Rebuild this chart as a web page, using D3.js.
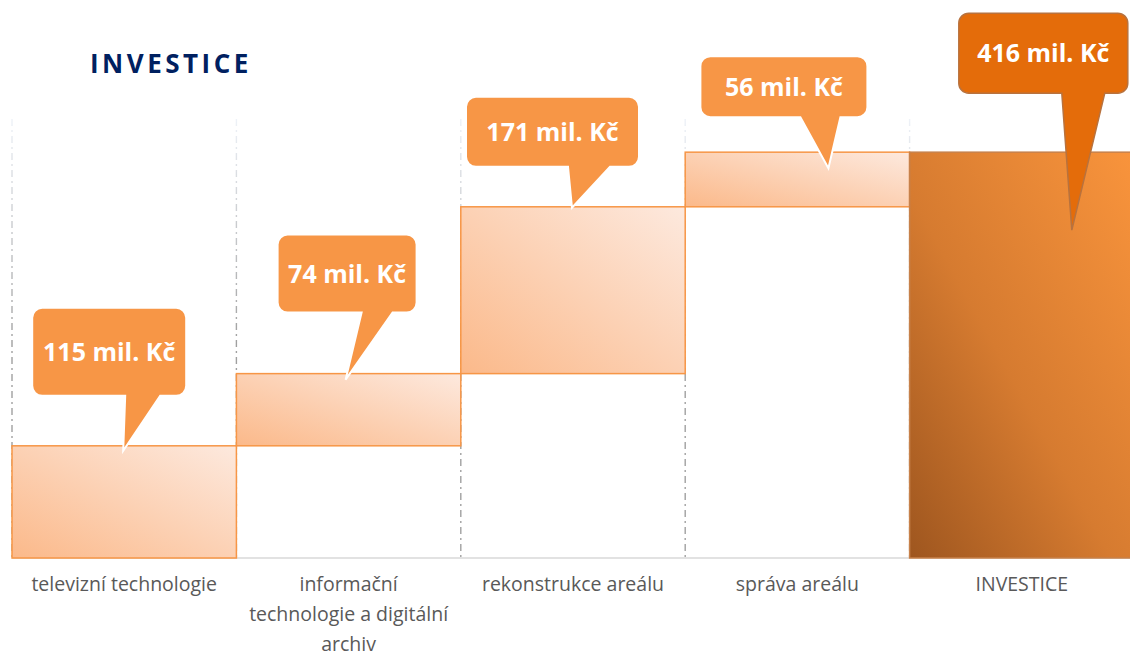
<!DOCTYPE html>
<html lang="cs">
<head>
<meta charset="UTF-8">
<title>Investice</title>
<script src="https://d3js.org/d3.v7.min.js"></script>
<style>
  body { margin: 0; background: #fff; font-family: 'Open Sans', Arial, sans-serif; }
  svg { display: block; }
  .cat-label { fill: #595959; font-size: 19.5px; }
  .callout-text { fill: #fff; font-weight: 700; font-size: 25px; }
  .title { fill: #002060; font-weight: 700; font-size: 26px; letter-spacing: 3.5px; }
</style>
</head>
<body>
<svg id="chart"></svg>
<script>
// data
const categories = ["televizní technologie", "informační technologie a digitální archiv",
                    "rekonstrukce areálu", "správa areálu", "INVESTICE"];
const tickLabels = [
  ["televizní technologie"],
  ["informační", "technologie a digitální", "archiv"],
  ["rekonstrukce areálu"],
  ["správa areálu"],
  ["INVESTICE"]
];
const steps = [115, 74, 171, 56];   // příspěvky jednotlivých položek
const total = 416;                   // souhrnný sloupec
const unit = "mil. Kč";
const yMax = 450;

// callout placement (px, relative to band centre and bar top)
const calloutLayout = [
  {left: -92, right: 62,  gap: 50, h: 88, baseL: 1,  baseR: 36, tipX: -1, tipY: 5},
  {left: -71, right: 68,  gap: 61, h: 78, baseL: 13, baseR: 44, tipX: -3, tipY: 6},
  {left: -107, right: 66, gap: 40, h: 70, baseL: -5, baseR: 37, tipX: -1, tipY: 1},
  {left: -97, right: 70,  gap: 35, h: 61, baseL: 3,  baseR: 43, tipX: 31, tipY: 16},
  {left: -63, right: 106, gap: 59, h: 80, baseL: 40, baseR: 83, tipX: 50, tipY: 78}
];

const W = 1130, H = 658;
const svg = d3.select("#chart").attr("width", W).attr("height", H);

const x = d3.scaleBand().domain(categories).range([12, 1134]).padding(0);
const y = d3.scaleLinear().domain([0, yMax]).range([558, 119]);

// build bar records
let cum = 0;
const bars = steps.map((v, i) => {
  const b = {cat: categories[i], y0: cum, y1: cum + v, value: v, total: false};
  cum += v;
  return b;
});
bars.push({cat: categories[4], y0: 0, y1: total, value: total, total: true});

// gradients
const defs = svg.append("defs");
const gLight = defs.append("linearGradient").attr("id", "gLight")
  .attr("x1", 0).attr("y1", 1).attr("x2", 1).attr("y2", 0);
gLight.append("stop").attr("offset", "0%").attr("stop-color", "#fbb98a");
gLight.append("stop").attr("offset", "100%").attr("stop-color", "#fde9de");

const gTotal = defs.append("linearGradient").attr("id", "gTotal")
  .attr("x1", 0).attr("y1", 1).attr("x2", 1).attr("y2", 0);
gTotal.append("stop").attr("offset", "0%").attr("stop-color", "#9e561f");
gTotal.append("stop").attr("offset", "45%").attr("stop-color", "#d67b30");
gTotal.append("stop").attr("offset", "100%").attr("stop-color", "#f9943c");

const gGrid = defs.append("linearGradient").attr("id", "gGrid")
  .attr("gradientUnits", "userSpaceOnUse")
  .attr("x1", 0).attr("y1", y(yMax)).attr("x2", 0).attr("y2", y(220));
gGrid.append("stop").attr("offset", "0%").attr("stop-color", "#eef2f8");
gGrid.append("stop").attr("offset", "100%").attr("stop-color", "#a0a0a0");

// title
svg.append("text").attr("class", "title")
  .attr("x", 90).attr("y", 73).text("INVESTICE");

// vertical dash-dot separators
svg.append("g").selectAll("line")
  .data(categories)
  .join("line")
  .attr("x1", d => x(d)).attr("x2", d => x(d))
  .attr("y1", y(yMax)).attr("y2", y(0))
  .attr("stroke", "url(#gGrid)")
  .attr("stroke-width", 1.4)
  .attr("stroke-dasharray", "7,4,2,4");

// baseline
svg.append("line")
  .attr("x1", x.range()[0]).attr("x2", W)
  .attr("y1", y(0)).attr("y2", y(0))
  .attr("stroke", "#d9d9d9").attr("stroke-width", 1.5);

// bars
svg.append("g").selectAll("rect")
  .data(bars)
  .join("rect")
  .attr("x", d => x(d.cat))
  .attr("width", x.bandwidth())
  .attr("y", d => y(d.y1))
  .attr("height", d => y(d.y0) - y(d.y1))
  .attr("fill", d => d.total ? "url(#gTotal)" : "url(#gLight)")
  .attr("stroke", d => d.total ? "#c7814a" : "#f79646")
  .attr("stroke-width", 1.5);

// callouts
function calloutPath(x1, x2, y1, y2, r, bl, br, tx, ty) {
  return `M${x1 + r},${y1} H${x2 - r} A${r},${r} 0 0 1 ${x2},${y1 + r}` +
    ` V${y2 - r} A${r},${r} 0 0 1 ${x2 - r},${y2} H${br} L${tx},${ty} L${bl},${y2}` +
    ` H${x1 + r} A${r},${r} 0 0 1 ${x1},${y2 - r} V${y1 + r} A${r},${r} 0 0 1 ${x1 + r},${y1} Z`;
}

const callouts = svg.append("g").selectAll("g")
  .data(bars)
  .join("g");

callouts.each(function(d, i) {
  const L = calloutLayout[i];
  const cx = x(d.cat) + x.bandwidth() / 2;
  const top = y(d.y1);
  const yb = top - L.gap, yt = yb - L.h;
  const g = d3.select(this);
  g.append("path")
    .attr("d", calloutPath(cx + L.left, cx + L.right, yt, yb, 10,
                           cx + L.baseL, cx + L.baseR, cx + L.tipX, top + L.tipY))
    .attr("fill", d.total ? "#e46c0a" : "#f79646")
    .attr("stroke", d.total ? "#b8723e" : "#ffffff")
    .attr("stroke-width", d.total ? 1.5 : 2);
  g.append("text")
    .attr("class", "callout-text")
    .attr("x", cx + (L.left + L.right) / 2)
    .attr("y", (yt + yb) / 2)
    .attr("dy", "0.36em")
    .attr("text-anchor", "middle")
    .text(`${d.value} ${unit}`);
});

// category labels
const lineH = 30;
svg.append("g").selectAll("text")
  .data(categories)
  .join("text")
  .attr("class", "cat-label")
  .attr("text-anchor", "middle")
  .each(function(d, i) {
    const cx = x(d) + x.bandwidth() / 2;
    d3.select(this).selectAll("tspan")
      .data(tickLabels[i])
      .join("tspan")
      .attr("x", cx)
      .attr("y", (t, j) => 591 + j * lineH)
      .text(t => t);
  });
</script>
</body>
</html>
